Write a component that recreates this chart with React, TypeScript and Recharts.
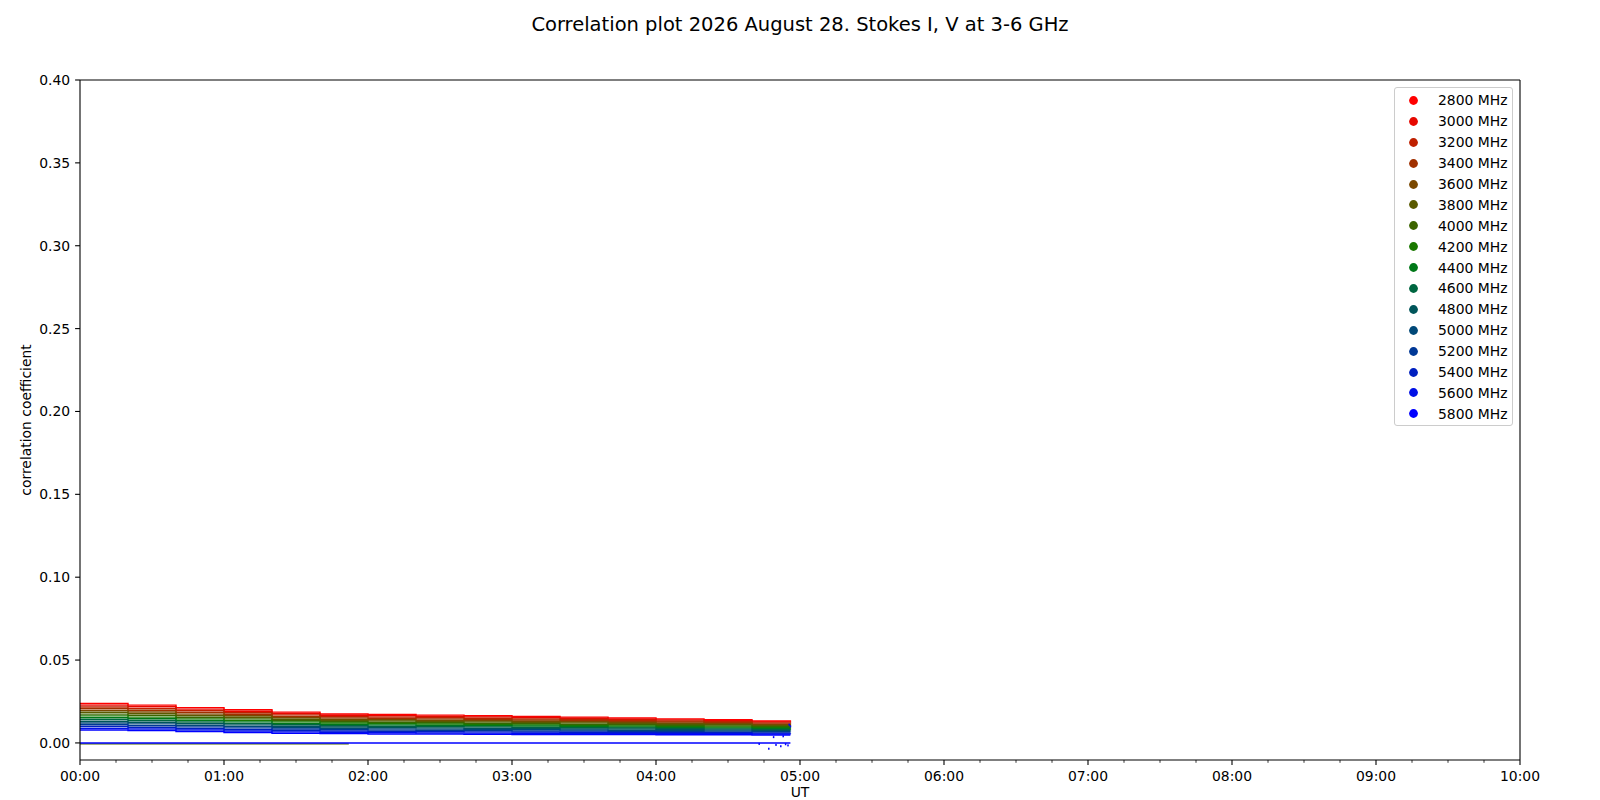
import React from 'react';
import { ComposedChart, Line, Scatter, XAxis, YAxis, Legend, ReferenceLine } from 'recharts';

const FONT = '"DejaVu Sans", Verdana, sans-serif';

// time in minutes since 00:00 UT
const TIMES = [0, 20, 40, 60, 80, 100, 120, 140, 160, 180, 200, 220, 240, 260, 280, 296];

const FREQS = [
  '2800 MHz', '3000 MHz', '3200 MHz', '3400 MHz', '3600 MHz', '3800 MHz', '4000 MHz', '4200 MHz',
  '4400 MHz', '4600 MHz', '4800 MHz', '5000 MHz', '5200 MHz', '5400 MHz', '5600 MHz', '5800 MHz',
];

const COLORS = [
  '#ff0000', '#e60800', '#bf2000', '#a03000', '#7a4800', '#5a5a00', '#3c6400', '#1a7800',
  '#007818', '#006640', '#00555a', '#004878', '#003896', '#0020c0', '#0010e6', '#0000ff',
];

// Stokes I correlation per frequency
const S2800 = [0.0238, 0.0228, 0.0213, 0.0200, 0.0186, 0.0175, 0.0172, 0.0168, 0.0164, 0.0160, 0.0156, 0.0150, 0.0145, 0.0140, 0.0132, 0.0128];
const S3000 = [0.0228, 0.0218, 0.0204, 0.0191, 0.0178, 0.0167, 0.0164, 0.0160, 0.0157, 0.0153, 0.0149, 0.0143, 0.0139, 0.0134, 0.0127, 0.0123];
const S3200 = [0.0217, 0.0207, 0.0194, 0.0182, 0.0169, 0.0159, 0.0156, 0.0153, 0.0149, 0.0145, 0.0142, 0.0137, 0.0132, 0.0128, 0.0121, 0.0117];
const S3400 = [0.0206, 0.0197, 0.0184, 0.0173, 0.0160, 0.0151, 0.0148, 0.0145, 0.0142, 0.0138, 0.0135, 0.0130, 0.0126, 0.0122, 0.0115, 0.0112];
const S3600 = [0.0195, 0.0187, 0.0174, 0.0164, 0.0152, 0.0143, 0.0140, 0.0137, 0.0134, 0.0131, 0.0128, 0.0123, 0.0119, 0.0116, 0.0110, 0.0107];
const S3800 = [0.0185, 0.0176, 0.0165, 0.0155, 0.0143, 0.0136, 0.0133, 0.0130, 0.0127, 0.0123, 0.0121, 0.0117, 0.0113, 0.0110, 0.0104, 0.0101];
const S4000 = [0.0174, 0.0166, 0.0155, 0.0145, 0.0135, 0.0128, 0.0125, 0.0122, 0.0119, 0.0116, 0.0113, 0.0110, 0.0107, 0.0103, 0.0098, 0.0096];
const S4200 = [0.0163, 0.0156, 0.0145, 0.0136, 0.0127, 0.0120, 0.0117, 0.0114, 0.0112, 0.0109, 0.0106, 0.0103, 0.0100, 0.0097, 0.0093, 0.0091];
const S4400 = [0.0152, 0.0146, 0.0136, 0.0127, 0.0118, 0.0112, 0.0109, 0.0106, 0.0104, 0.0102, 0.0099, 0.0096, 0.0094, 0.0091, 0.0087, 0.0085];
const S4600 = [0.0142, 0.0135, 0.0126, 0.0118, 0.0110, 0.0104, 0.0101, 0.0099, 0.0097, 0.0094, 0.0092, 0.0090, 0.0087, 0.0085, 0.0082, 0.0080];
const S4800 = [0.0131, 0.0125, 0.0116, 0.0109, 0.0101, 0.0096, 0.0093, 0.0091, 0.0089, 0.0087, 0.0085, 0.0083, 0.0081, 0.0079, 0.0076, 0.0075];
const S5000 = [0.0120, 0.0115, 0.0106, 0.0100, 0.0093, 0.0088, 0.0085, 0.0083, 0.0082, 0.0080, 0.0078, 0.0076, 0.0075, 0.0073, 0.0070, 0.0070];
const S5200 = [0.0110, 0.0104, 0.0097, 0.0091, 0.0084, 0.0080, 0.0077, 0.0076, 0.0074, 0.0072, 0.0071, 0.0070, 0.0068, 0.0067, 0.0065, 0.0064];
const S5400 = [0.0099, 0.0094, 0.0087, 0.0081, 0.0075, 0.0072, 0.0070, 0.0068, 0.0067, 0.0065, 0.0064, 0.0063, 0.0062, 0.0061, 0.0059, 0.0059];
const S5600 = [0.0088, 0.0084, 0.0078, 0.0072, 0.0067, 0.0064, 0.0062, 0.0060, 0.0059, 0.0058, 0.0057, 0.0057, 0.0056, 0.0055, 0.0054, 0.0053];
const S5800 = [0.0078, 0.0074, 0.0068, 0.0063, 0.0058, 0.0056, 0.0054, 0.0053, 0.0052, 0.0051, 0.0050, 0.0050, 0.0049, 0.0049, 0.0048, 0.0048];

const SERIES_I = [S2800, S3000, S3200, S3400, S3600, S3800, S4000, S4200, S4400, S4600, S4800, S5000, S5200, S5400, S5600, S5800];

// Stokes V (near zero)
const V_TIMES = [0, 112, 296];
const V_LOW = [-0.0006, -0.0006, null];
const V_HIGH = [0.0, 0.0, 0.0];

// stray points near the end
const STRAY_T = [283, 287, 290, 292, 294, 295, 295.5, 296, 293, 289];
const STRAY_V = [-0.0006, -0.0035, -0.0012, -0.0020, -0.0008, -0.0015, 0.0110, 0.0100, 0.0040, 0.0035];

const X_TICKS = Array.from({ length: 41 }, (_, i) => i * 15);
const Y_TICKS = [0, 0.05, 0.1, 0.15, 0.2, 0.25, 0.3, 0.35, 0.4];

const X_MAX = 600;
const Y_MIN = -0.0103;
const Y_MAX = 0.4;

const fmtTime = (m: number) => {
  const h = Math.floor(m / 60);
  const mm = m % 60;
  return `${String(h).padStart(2, '0')}:${String(mm).padStart(2, '0')}`;
};

const XTick = (props: any) => {
  const { x, y, payload } = props;
  const v = payload.value;
  const major = v % 60 === 0;
  return (
    <g>
      <line x1={x} x2={x} y1={y} y2={y + (major ? 4.9 : 2.8)} stroke="#000" strokeWidth={major ? 1.1 : 0.8} />
      {major && (
        <text x={x} y={y + 21} textAnchor="middle" fontSize={13.9} fontFamily={FONT} fill="#000">
          {fmtTime(v)}
        </text>
      )}
    </g>
  );
};

const YTick = (props: any) => {
  const { x, y, payload } = props;
  return (
    <g>
      <line x1={x - 4.9} x2={x} y1={y} y2={y} stroke="#000" strokeWidth={1.1} />
      <text x={x - 9.8} y={y + 5} textAnchor="end" fontSize={13.9} fontFamily={FONT} fill="#000">
        {Number(payload.value).toFixed(2)}
      </text>
    </g>
  );
};

const LegendBox = (props: any) => {
  const items = (props.payload || []).filter((p: any) => p.type !== 'none' && FREQS.includes(p.value));
  return (
    <div
      style={{
        width: 119,
        height: 339,
        boxSizing: 'border-box',
        border: '1px solid #cccccc',
        borderRadius: 3,
        background: 'rgba(255,255,255,0.8)',
        fontFamily: FONT,
        fontSize: 13.9,
        paddingTop: 2,
        color: '#000',
      }}
    >
      {items.map((it: any) => (
        <div key={it.value} style={{ height: 20.9, display: 'flex', alignItems: 'center', paddingLeft: 13.5 }}>
          <svg width={9} height={9} style={{ display: 'block' }}>
            <circle cx={4.5} cy={4.5} r={4.4} fill={it.color} />
          </svg>
          <span style={{ marginLeft: 20.5, whiteSpace: 'nowrap', lineHeight: '16px' }}>{it.value}</span>
        </div>
      ))}
    </div>
  );
};

const YLabel = (props: any) => {
  const vb = props.viewBox || {};
  const cy = vb.y + vb.height / 2;
  const cx = 25.5;
  return (
    <text
      x={cx}
      y={cy}
      transform={`rotate(-90 ${cx} ${cy})`}
      textAnchor="middle"
      dominantBaseline="central"
      fontSize={13.9}
      fontFamily={FONT}
      fill="#000"
    >
      correlation coefficient
    </text>
  );
};

const XLabel = (props: any) => {
  const vb = props.viewBox || {};
  const cx = vb.x + vb.width / 2;
  return (
    <text x={cx} y={vb.y + 36.5} textAnchor="middle" fontSize={13.9} fontFamily={FONT} fill="#000">
      UT
    </text>
  );
};

const StrayDot = (props: any) => {
  const { cx, cy } = props;
  return <rect x={cx - 0.75} y={cy - 1} width={1.5} height={2} fill="#0000ff" />;
};

export default function App() {
  const seriesData = SERIES_I.map((arr) => TIMES.map((t, i) => ({ t, v: arr[i] })));
  const vLow = V_TIMES.map((t, i) => ({ t, v: V_LOW[i] }));
  const vHigh = V_TIMES.map((t, i) => ({ t, v: V_HIGH[i] }));
  const stray = STRAY_T.map((t, i) => ({ t, v: STRAY_V[i] }));

  return (
    <div style={{ position: 'absolute', left: 0, top: 0, width: 1600, height: 800, background: '#fff' }}>
      <div
        style={{
          position: 'absolute',
          left: 0,
          top: 13,
          width: 1600,
          textAlign: 'center',
          fontFamily: FONT,
          fontSize: 19.5,
          lineHeight: '23px',
          color: '#000',
        }}
      >
        Correlation plot 2026 August 28. Stokes I, V at 3-6 GHz
      </div>
      <ComposedChart width={1600} height={800} margin={{ top: 80, right: 80, left: 0, bottom: 0 }}>
        <XAxis
          type="number"
          dataKey="t"
          domain={[0, X_MAX]}
          allowDataOverflow
          ticks={X_TICKS}
          interval={0}
          tick={<XTick />}
          tickLine={false}
          tickSize={0}
          tickMargin={0}
          height={40}
          axisLine={{ stroke: '#000', strokeWidth: 1.1 }}
          label={<XLabel />}
        />
        <YAxis
          type="number"
          dataKey="v"
          domain={[Y_MIN, Y_MAX]}
          allowDataOverflow
          ticks={Y_TICKS}
          interval={0}
          tick={<YTick />}
          tickLine={false}
          tickSize={0}
          tickMargin={0}
          width={80}
          axisLine={{ stroke: '#000', strokeWidth: 1.1 }}
          label={<YLabel />}
        />
        <ReferenceLine y={Y_MAX} stroke="#000" strokeWidth={1.1} ifOverflow="visible" />
        <ReferenceLine x={X_MAX} stroke="#000" strokeWidth={1.1} ifOverflow="visible" />
        {seriesData.map((d, k) => (
          <Line
            key={FREQS[k]}
            data={d}
            dataKey="v"
            name={FREQS[k]}
            type="stepAfter"
            stroke={COLORS[k]}
            strokeWidth={1.4}
            dot={false}
            activeDot={false}
            isAnimationActive={false}
          />
        ))}
        <Line
          data={vLow}
          dataKey="v"
          name="V low"
          type="stepAfter"
          stroke="#4a6400"
          strokeWidth={1.4}
          dot={false}
          activeDot={false}
          legendType="none"
          isAnimationActive={false}
        />
        <Line
          data={vHigh}
          dataKey="v"
          name="V high"
          type="stepAfter"
          stroke="#0000ff"
          strokeWidth={1.6}
          dot={false}
          activeDot={false}
          legendType="none"
          isAnimationActive={false}
        />
        <Scatter
          data={stray}
          dataKey="v"
          name="stray"
          fill="#0000ff"
          shape={<StrayDot />}
          legendType="none"
          isAnimationActive={false}
        />
        <Legend
          layout="vertical"
          align="center"
          verticalAlign="middle"
          content={<LegendBox />}
          wrapperStyle={{ left: 1394, top: 87, width: 'auto', height: 'auto' }}
        />
      </ComposedChart>
    </div>
  );
}
